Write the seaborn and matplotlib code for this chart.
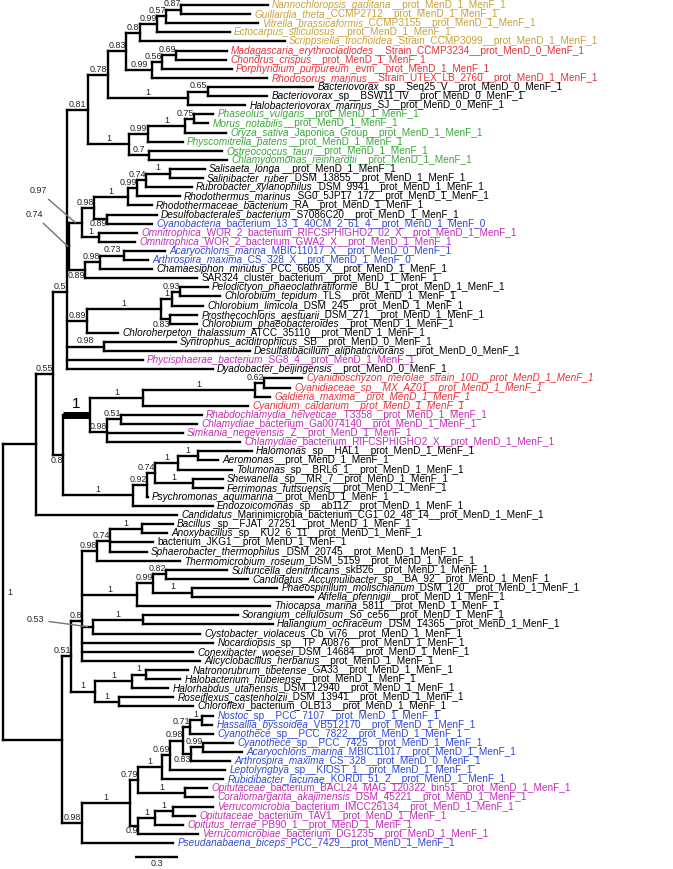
import matplotlib
matplotlib.use("Agg")
import matplotlib.pyplot as plt
from matplotlib.collections import LineCollection
import numpy as np
import seaborn as sns

sns.set_theme(style="white")
plt.rcParams["font.family"] = ["Liberation Sans", "DejaVu Sans"]

# ---------------- tree data ----------------
# internal nodes: parent index (-1 = root), branch length, support value
clade_parent = [-1, 0, 1, 2, 3, 4, 5, 6, 7, 8,
                9, 6, 11, 12, 5, 14, 4, 16, 17, 18,
                16, 3, 21, 22, 23, 24, 25, 26, 23, 22,
                21, 30, 31, 3, 33, 34, 35, 34, 3, 2,
                39, 40, 41, 42, 40, 44, 39, 46, 47, 48,
                49, 48, 0, 52, 53, 54, 55, 56, 54, 58,
                59, 59, 54, 62, 53, 64, 65, 64, 52, 68,
                69, 70, 71, 72, 73, 74, 73, 76, 70, 69,
                79, 80]
clade_length = [0.0, 0.229, 0.118, 0.097, 0.146, 0.139, 0.125, 0.097, 0.118, 0.063,
                0.104, 0.181, 0.069, 0.097, 0.556, 0.139, 0.285, 0.132, 0.257, 0.063,
                0.139, 0.014, 0.090, 0.083, 0.236, 0.063, 0.063, 0.167, 0.090, 0.118,
                0.111, 0.104, 0.167, 0.139, 0.514, 0.076, 0.056, 0.063, 0.257, 0.069,
                0.188, 0.368, 0.778, 0.063, 0.118, 0.097, 0.486, 0.097, 0.056, 0.160,
                0.139, 0.264, 0.410, 0.063, 0.076, 0.104, 0.090, 0.222, 0.382, 0.111,
                0.090, 0.271, 0.076, 0.347, 0.167, 0.257, 0.097, 0.167, 0.139, 0.333,
                0.056, 0.167, 0.056, 0.090, 0.049, 0.083, 0.056, 0.083, 0.326, 0.056,
                0.118, 0.125]
clade_support = ["1", "", "0.55", "0.5", "0.81", "0.78", "0.83", "0.8", "0.99", "0.57",
                 "0.87", "0.99", "0.56", "0.69", "1", "0.65", "1", "0.99", "1", "0.75",
                 "0.7", "0.74", "0.97", "0.98", "1", "0.99", "0.74", "1", "0.89", "1",
                 "0.89", "0.98", "0.73", "0.89", "1", "1", "0.93", "0.83", "0.98", "0.8",
                 "1", "1", "1", "0.62", "0.98", "0.51", "1", "0.92", "0.74", "1",
                 "1", "1", "", "0.51", "0.8", "0.98", "0.74", "1", "1", "0.99",
                 "0.82", "1", "0.53", "1", "1", "1", "1", "1", "0.98", "1",
                 "0.79", "1", "0.69", "0.98", "0.71", "1", "0.83", "0.99", "1", "0.9",
                 "1", "1"]

# leaves (top to bottom): italic part, plain part, parent node, branch length, colour group
leaf_taxon = [
    "Nannochloropsis_gaditana", "Guillardia_theta", "Vitrella_brassicaformis",
    "Ectocarpus_siliculosus", "Scrippsiella_trochoidea", "Madagascaria_erythrocladiodes",
    "Chondrus_crispus", "Porphyridium_purpureum", "Rhodosorus_marinus",
    "Bacteriovorax", "Bacteriovorax", "Halobacteriovorax_marinus",
    "Phaseolus_vulgaris", "Morus_notabilis", "Oryza_sativa", "Physcomitrella_patens",
    "Ostreococcus_tauri", "Chlamydomonas_reinhardtii", "Salisaeta_longa",
    "Salinibacter_ruber", "Rubrobacter_xylanophilus", "Rhodothermus_marinus",
    "Rhodothermaceae_bacterium", "Desulfobacterales_bacterium", "Cyanobacteria",
    "Omnitrophica", "Omnitrophica", "Acaryochloris_marina", "Arthrospira_maxima",
    "Chamaesiphon_minutus", "", "Pelodictyon_phaeoclathratiforme", "Chlorobium_tepidum",
    "Chlorobium_limicola", "Prosthecochloris_aestuarii", "Chlorobium_phaeobacteroides",
    "Chloroherpeton_thalassium", "Syntrophus_aciditrophicus",
    "Desulfatibacillum_aliphaticivorans", "Phycisphaerae_bacterium",
    "Dyadobacter_beijingensis", "Cyanidioschyzon_merolae_strain_10D__prot_MenD_1_MenF_1",
    "Cyanidiaceae_sp__MX_AZ01__prot_MenD_1_MenF_1", "Galdieria_maxima__prot_MenD_1_MenF_1",
    "Cyanidium_caldarium__prot_MenD_1_MenF_1", "Rhabdochlamydia_helveticae", "Chlamydiae",
    "Simkania_negevensis", "Chlamydiae", "Halomonas", "Aeromonas", "Tolumonas",
    "Shewanella", "Ferrimonas_futtsuensis", "Psychromonas_aquimarina", "Endozoicomonas",
    "Candidatus", "Bacillus", "Anoxybacillus", "", "Sphaerobacter_thermophilus",
    "Thermomicrobium_roseum", "Sulfuricella_denitrificans", "Candidatus_Accumulibacter",
    "Phaeospirillum_molischianum", "Afifella_pfennigii", "Thiocapsa_marina",
    "Sorangium_cellulosum", "Haliangium_ochraceum", "Cystobacter_violaceus",
    "Nocardiopsis", "Conexibacter_woesei", "Alicyclobacillus_herbarius",
    "Natronorubrum_tibetense", "Halobacterium_hubeiense", "Halorhabdus_utahensis",
    "Roseiflexus_castenholzii", "Chloroflexi", "Nostoc", "Hassallia_byssoidea",
    "Cyanothece", "Cyanothece", "Acaryochloris_marina", "Arthrospira_maxima",
    "Leptolyngbya", "Rubidibacter_lacunae", "Opitutaceae", "Coraliomargarita_akajimensis",
    "Verrucomicrobia", "Opitutaceae", "Opitutus_terrae", "Verrucomicrobiae",
    "Pseudanabaena_biceps"]
leaf_rest = [
    "__prot_MenD_1_MenF_1", "_CCMP2712__prot_MenD_1_MenF_1", "_CCMP3155__prot_MenD_1_MenF_1",
    "__prot_MenD_1_MenF_1", "_Strain_CCMP3099__prot_MenD_1_MenF_1",
    "__Strain_CCMP3234__prot_MenD_0_MenF_1", "__prot_MenD_1_MenF_1",
    "_evm__prot_MenD_1_MenF_1", "__Strain_UTEX_LB_2760__prot_MenD_1_MenF_1",
    "_sp__Seq25_V__prot_MenD_0_MenF_1", "_sp__BSW11_IV__prot_MenD_0_MenF_1",
    "_SJ__prot_MenD_0_MenF_1", "__prot_MenD_1_MenF_1", "__prot_MenD_1_MenF_1",
    "_Japonica_Group__prot_MenD_1_MenF_1", "__prot_MenD_1_MenF_1", "__prot_MenD_1_MenF_1",
    "__prot_MenD_1_MenF_1", "__prot_MenD_1_MenF_1", "_DSM_13855__prot_MenD_1_MenF_1",
    "_DSM_9941__prot_MenD_1_MenF_1", "_SG0_5JP17_172__prot_MenD_1_MenF_1",
    "_RA__prot_MenD_1_MenF_1", "_S7086C20__prot_MenD_1_MenF_1",
    "_bacterium_13_1_40CM_2_61_4__prot_MenD_1_MenF_0",
    "_WOR_2_bacterium_RIFCSPHIGHO2_02_X__prot_MenD_1_MenF_1",
    "_WOR_2_bacterium_GWA2_X__prot_MenD_1_MenF_1", "_MBIC11017_X__prot_MenD_0_MenF_1",
    "_CS_328_X__prot_MenD_1_MenF_0", "_PCC_6605_X__prot_MenD_1_MenF_1",
    "SAR324_cluster_bacterium__prot_MenD_1_MenF_1", "_BU_1__prot_MenD_1_MenF_1",
    "_TLS__prot_MenD_1_MenF_1", "_DSM_245__prot_MenD_1_MenF_1",
    "_DSM_271__prot_MenD_1_MenF_1", "__prot_MenD_1_MenF_1",
    "_ATCC_35110__prot_MenD_1_MenF_1", "_SB__prot_MenD_0_MenF_1", "__prot_MenD_0_MenF_1",
    "_SG8_4__prot_MenD_1_MenF_1", "__prot_MenD_0_MenF_1", "", "", "", "",
    "_T3358__prot_MenD_1_MenF_1", "_bacterium_Ga0074140__prot_MenD_1_MenF_1",
    "_Z__prot_MenD_1_MenF_1", "_bacterium_RIFCSPHIGHO2_X__prot_MenD_1_MenF_1",
    "_sp__HAL1__prot_MenD_1_MenF_1", "__prot_MenD_1_MenF_1", "_sp__BRL6_1__prot_MenD_1_MenF_1",
    "_sp__MR_7__prot_MenD_1_MenF_1", "__prot_MenD_1_MenF_1", "__prot_MenD_1_MenF_1",
    "_sp__ab112__prot_MenD_1_MenF_1",
    "_Marinimicrobia_bacterium_CG1_02_48_14__prot_MenD_1_MenF_1",
    "_sp__FJAT_27251__prot_MenD_1_MenF_1", "_sp__KU2_6_11__prot_MenD_1_MenF_1",
    "bacterium_JKG1__prot_MenD_1_MenF_1", "_DSM_20745__prot_MenD_1_MenF_1",
    "_DSM_5159__prot_MenD_1_MenF_1", "_skB26__prot_MenD_1_MenF_1",
    "_sp__BA_92__prot_MenD_1_MenF_1", "_DSM_120__prot_MenD_1_MenF_1",
    "__prot_MenD_1_MenF_1", "_5811__prot_MenD_1_MenF_1", "_So_ce56__prot_MenD_1_MenF_1",
    "_DSM_14365__prot_MenD_1_MenF_1", "_Cb_vi76__prot_MenD_1_MenF_1",
    "_sp__TP_A0876__prot_MenD_1_MenF_1", "_DSM_14684__prot_MenD_1_MenF_1",
    "__prot_MenD_1_MenF_1", "_GA33__prot_MenD_1_MenF_1", "__prot_MenD_1_MenF_1",
    "_DSM_12940__prot_MenD_1_MenF_1", "_DSM_13941__prot_MenD_1_MenF_1",
    "_bacterium_OLB13__prot_MenD_1_MenF_1", "_sp__PCC_7107__prot_MenD_1_MenF_1",
    "_VB512170__prot_MenD_1_MenF_1", "_sp__PCC_7822__prot_MenD_1_MenF_1",
    "_sp__PCC_7425__prot_MenD_1_MenF_1", "_MBIC11017__prot_MenD_1_MenF_1",
    "_CS_328__prot_MenD_0_MenF_1", "_sp__KIOST_1__prot_MenD_1_MenF_1",
    "_KORDI_51_2__prot_MenD_1_MenF_1",
    "_bacterium_BACL24_MAG_120322_bin51__prot_MenD_1_MenF_1",
    "_DSM_45221__prot_MenD_1_MenF_1", "_bacterium_IMCC26134__prot_MenD_1_MenF_1",
    "_bacterium_TAV1__prot_MenD_1_MenF_1", "_PB90_1__prot_MenD_1_MenF_1",
    "_bacterium_DG1235__prot_MenD_1_MenF_1", "_PCC_7429__prot_MenD_1_MenF_1"]
leaf_parent = [10, 10, 9, 8, 7, 13, 13, 12, 11, 15,
               15, 14, 19, 19, 18, 17, 20, 20, 27, 27,
               26, 25, 24, 28, 28, 29, 29, 32, 32, 31,
               30, 36, 36, 35, 37, 37, 33, 38, 38, 3,
               3, 43, 43, 42, 41, 45, 45, 44, 44, 50,
               50, 49, 51, 51, 47, 46, 1, 57, 57, 56,
               56, 55, 60, 60, 61, 61, 58, 63, 63, 62,
               54, 54, 54, 66, 66, 65, 67, 67, 75, 75,
               74, 77, 77, 76, 72, 71, 78, 78, 81, 81,
               80, 79, 68]
leaf_length = [0.604, 0.479, 0.639, 0.507, 1.007, 0.354, 0.347, 0.486, 0.799, 0.729,
               0.410, 0.396, 0.132, 0.097, 0.285, 0.243, 0.507, 0.542, 0.243, 0.229,
               0.319, 0.299, 0.167, 0.347, 0.313, 0.264, 0.250, 0.285, 0.167, 0.361,
               0.778, 0.194, 0.278, 0.215, 0.188, 0.188, 0.215, 0.500, 1.014, 0.528,
               1.014, 0.264, 0.181, 0.104, 0.729, 0.563, 0.528, 0.528, 0.924, 0.375,
               0.139, 0.375, 0.208, 0.208, 0.007, 0.556, 0.979, 0.215, 0.174, 0.299,
               0.257, 0.576, 0.424, 0.569, 0.590, 0.840, 0.924, 0.660, 0.903, 0.743,
               0.910, 0.771, 0.819, 0.292, 0.236, 0.250, 0.375, 0.514, 0.076, 0.069,
               0.160, 0.208, 0.271, 0.271, 0.382, 0.424, 0.153, 0.194, 0.278, 0.153,
               0.194, 0.417, 0.632]
leaf_group = ["stram", "stram", "stram", "stram", "stram", "red", "red", "red", "red", "other",
              "other", "other", "green", "green", "green", "green", "green", "green", "other", "other",
              "other", "other", "other", "other", "cyano", "pvc", "pvc", "cyano", "cyano", "other",
              "other", "other", "other", "other", "other", "other", "other", "other", "other", "pvc",
              "other", "red", "red", "red", "red", "pvc", "pvc", "pvc", "pvc", "other",
              "other", "other", "other", "other", "other", "other", "other", "other", "other", "other",
              "other", "other", "other", "other", "other", "other", "other", "other", "other", "other",
              "other", "other", "other", "other", "other", "other", "other", "other", "cyano", "cyano",
              "cyano", "cyano", "cyano", "cyano", "cyano", "cyano", "pvc", "pvc", "pvc", "pvc",
              "pvc", "pvc", "cyano"]
group_colors = {"stram": "#c9a23c", "red": "#e3343b", "green": "#3aa83a",
                "cyano": "#3048d6", "pvc": "#c22cb6", "other": "black"}
scale_length = 0.3

# label placement tweaks (node index based)
labels_below = {28, 30, 37, 39, 76, 79}
pointer_offsets = {21: (-34, 32), 22: (-37, 32), 62: (-52, 7)}  # pixels
thick_clade = 40

# ---------------- layout ----------------
n_clades = len(clade_parent)
n_leaves = len(leaf_taxon)

cx = np.zeros(n_clades)
for i in range(1, n_clades):
    cx[i] = cx[clade_parent[i]] + clade_length[i]
lx = np.array([cx[p] for p in leaf_parent]) + np.array(leaf_length)
ly = np.arange(n_leaves, dtype=float)

kids = [[] for _ in range(n_clades)]
for i in range(n_leaves):
    kids[leaf_parent[i]].append(ly[i])
cy = np.zeros(n_clades)
ymin = np.zeros(n_clades)
ymax = np.zeros(n_clades)
for i in range(n_clades - 1, -1, -1):
    cy[i] = np.mean(kids[i])
    ymin[i], ymax[i] = min(kids[i]), max(kids[i])
    if i > 0:
        kids[clade_parent[i]].append(cy[i])

# ---------------- drawing ----------------
fig = plt.figure(figsize=(6.73, 8.69), dpi=100)
ax = fig.add_axes([0, 0, 1, 1])
ax.set_xlim(-3 / 144, 670 / 144)
ax.set_ylim(94.85, -0.55)
ax.axis("off")

segs = []
for i in range(n_clades):
    segs.append([(cx[i], ymin[i]), (cx[i], ymax[i])])
    if i > 0 and i != thick_clade:
        segs.append([(cx[clade_parent[i]], cy[i]), (cx[i], cy[i])])
for i in range(n_leaves):
    segs.append([(cx[leaf_parent[i]], ly[i]), (lx[i], ly[i])])
ax.add_collection(LineCollection(segs, colors="black", linewidths=1.7, capstyle="projecting"))
p = clade_parent[thick_clade]
ax.plot([cx[p], cx[thick_clade]], [cy[thick_clade], cy[thick_clade]],
        color="black", lw=5, solid_capstyle="butt")

fs = 7.2
for i in range(n_leaves):
    col = group_colors[leaf_group[i]]
    if leaf_taxon[i]:
        t1 = ax.annotate(leaf_taxon[i], (lx[i], ly[i]), xytext=(3, 0), textcoords="offset points",
                         va="center", ha="left", style="italic", color=col, fontsize=fs)
        if leaf_rest[i]:
            ax.annotate(leaf_rest[i], xy=(1, 0.5), xycoords=t1, va="center", ha="left",
                        color=col, fontsize=fs)
    else:
        ax.annotate(leaf_rest[i], (lx[i], ly[i]), xytext=(3, 0), textcoords="offset points",
                    va="center", ha="left", color=col, fontsize=fs)

sfs = 6.4
scol = "#222222"
ax.annotate(clade_support[0], (cx[0], cy[0]), xytext=(3, 0), textcoords="offset points",
            va="center", ha="left", fontsize=sfs, color=scol)
sup_texts = []
for i in range(1, n_clades):
    s = clade_support[i]
    if not s:
        continue
    p = clade_parent[i]
    mid = (cx[p] + cx[i]) / 2
    if i in pointer_offsets:
        ax.annotate(s, (mid, cy[i]), xytext=pointer_offsets[i], textcoords="offset pixels",
                    ha="center", va="center", fontsize=sfs, color=scol,
                    arrowprops=dict(arrowstyle="-", color="0.45", lw=1.0,
                                    shrinkA=1, shrinkB=0))
        continue
    if i == thick_clade:
        ax.annotate(s, (mid, cy[i]), xytext=(0, 2.5), textcoords="offset points",
                    ha="center", va="bottom", fontsize=11, color="black")
        continue
    below = i in labels_below
    t = ax.annotate(s, (mid, cy[i]), xytext=(0, -0.3 if below else 0.8),
                    textcoords="offset points", ha="center",
                    va="top" if below else "bottom", fontsize=sfs, color=scol)
    sup_texts.append((t, i))

fig.canvas.draw()
r = fig.canvas.get_renderer()
for t, i in sup_texts:
    bb = t.get_window_extent(r)
    node_px = ax.transData.transform((cx[i], cy[i]))[0]
    if bb.x1 > node_px + 0.5:
        t.xy = (cx[i], cy[i])
        t.set_ha("right")

# scale bar
sx, sy = 0.917, 93.55
ax.plot([sx, sx + scale_length], [sy, sy], color="black", lw=1.7, solid_capstyle="butt")
ax.annotate(str(scale_length), (sx + scale_length / 2, sy), xytext=(0, -1.5),
            textcoords="offset points", ha="center", va="top", fontsize=sfs, color=scol)

fig.savefig("out.png", dpi=100)
